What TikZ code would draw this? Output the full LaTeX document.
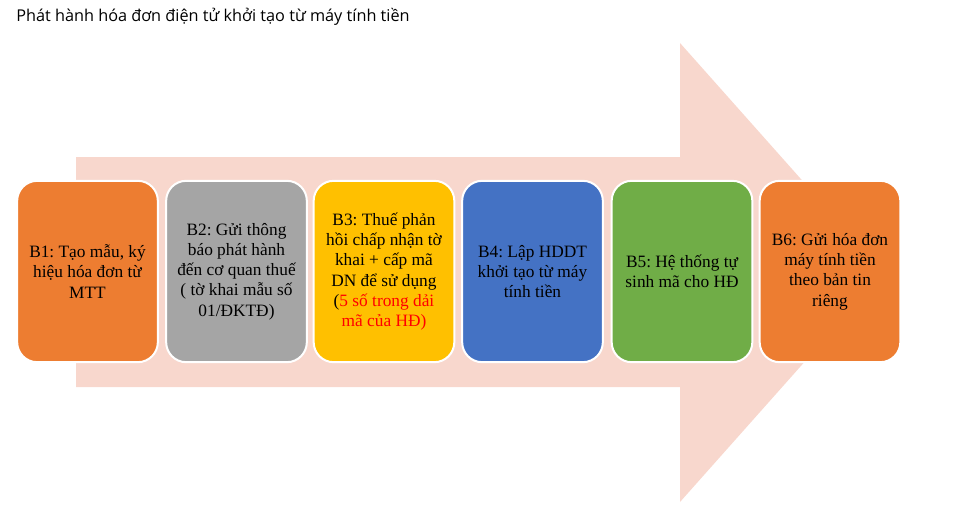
\documentclass[tikz,border=0pt]{standalone}
\usepackage{fontspec}
\setmainfont{Liberation Serif}
\newfontfamily\titlefont{Open Sans}
\definecolor{arrowpink}{HTML}{F8D7CD}
\definecolor{borange}{HTML}{ED7D31}
\definecolor{bgray}{HTML}{A5A5A5}
\definecolor{bgold}{HTML}{FFC000}
\definecolor{bblue}{HTML}{4472C4}
\definecolor{bgreen}{HTML}{70AD47}
\definecolor{bred}{HTML}{FF0000}
\frenchspacing
\begin{document}
\begin{tikzpicture}[x=0.75pt,y=-0.75pt,
  stepbox/.style={draw=white,line width=1.5pt,rounded corners=15pt,
    minimum width=105.5pt,minimum height=136pt,inner sep=2pt,
    align=center,
    font=\fontsize{13}{15.2}\selectfont,text=black}]
\useasboundingbox (0,0) rectangle (957,510);
% big arrow
\fill[arrowpink] (76,157) -- (680,157) -- (680,43) -- (884,272.5)
  -- (680,502) -- (680,387) -- (76,387) -- cycle;
% title
\node[anchor=base west,inner sep=0pt,font=\titlefont\fontsize{12.2}{14}\selectfont] (title) at (16,22) {Phát hành hóa đơn điện tử khởi tạo từ máy tính tiền};
% boxes
\node[stepbox,fill=borange] (b1) at (87.5,271.5) {B1: Tạo mẫu, ký\\hiệu hóa đơn từ\\MTT};
\node[stepbox,fill=bgray] (b2) at (236.5,271.5) {B2: Gửi thông\\báo phát hành\\đến cơ quan thuế\\( tờ khai mẫu số\\01/ĐKTĐ)};
\node[stepbox,fill=bgold] (b3) at (384,271.5) {B3: Thuế phản\\hồi chấp nhận tờ\\khai + cấp mã\\DN để sử dụng\\(\textcolor{bred}{5 số trong dải}\\\textcolor{bred}{mã của HĐ)}};
\node[stepbox,fill=bblue] (b4) at (532.5,271.5) {B4: Lập HDDT\\khởi tạo từ máy\\tính tiền};
\node[stepbox,fill=bgreen] (b5) at (682,271.5) {B5: Hệ thống tự\\sinh mã cho HĐ};
\node[stepbox,fill=borange] (b6) at (830,271.5) {B6: Gửi hóa đơn\\máy tính tiền\\theo bản tin\\riêng};
\end{tikzpicture}
\end{document}
